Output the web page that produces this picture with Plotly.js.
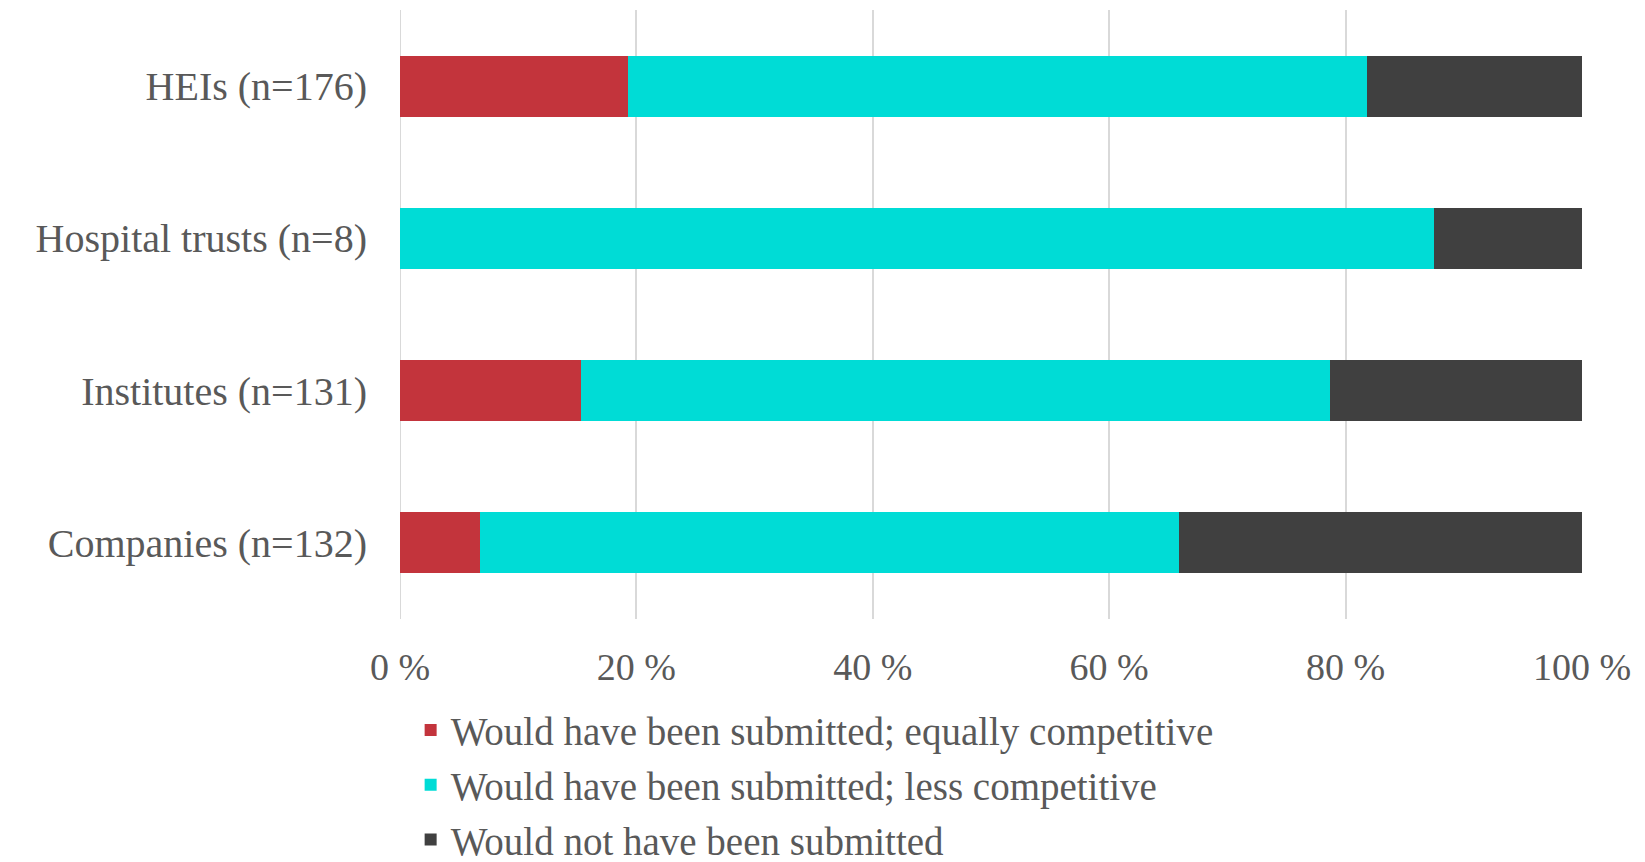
<!DOCTYPE html>
<html>
<head>
<meta charset="utf-8">
<script src="https://cdn.plot.ly/plotly-3.0.1.min.js"></script>
<style>html,body{margin:0;padding:0;background:#fff;}#chart{width:1645px;height:862px;}</style>
</head>
<body>
<div id="chart"></div>
<script>
const categories = ["HEIs (n=176)", "Hospital trusts (n=8)", "Institutes (n=131)", "Companies (n=132)"];
const equallyCompetitive = [19.3, 0, 15.3, 6.8];
const lessCompetitive = [62.5, 87.5, 63.4, 59.1];
const notSubmitted = [18.2, 12.5, 21.4, 34.1];
const seriesNames = ["Would have been submitted; equally competitive", "Would have been submitted; less competitive", "Would not have been submitted"];
const tickVals = [0, 20, 40, 60, 80, 100];
const tickText = ["0 %", "20 %", "40 %", "60 %", "80 %", "100 %"];

const colors = ["#C3343C", "#00DCD6", "#404040"];
const font = {family: "Liberation Serif, serif", color: "#595959"};
const seriesVals = [equallyCompetitive, lessCompetitive, notSubmitted];
const traces = seriesVals.map((v, i) => ({
  type: "bar", orientation: "h", y: categories, x: v, name: seriesNames[i],
  legendgroup: "g" + i,
  marker: {color: colors[i], line: {width: 0}},
  hoverinfo: "x+name"
}));

const layout = {
  width: 1645, height: 862,
  margin: {l: 400, r: 63, t: 10, b: 243, autoexpand: false},
  barmode: "stack", bargap: 0.6,
  paper_bgcolor: "#fff", plot_bgcolor: "#fff",
  font: Object.assign({size: 38}, font),
  xaxis: {
    range: [0, 100], tickvals: tickVals, ticktext: tickText,
    showgrid: true, gridcolor: "#d9d9d9", gridwidth: 2,
    zeroline: false, showline: false, ticks: "",
    ticklabelstandoff: 22,
    tickfont: Object.assign({size: 38}, font), fixedrange: true
  },
  yaxis: {
    autorange: "reversed", showgrid: false, zeroline: false, showline: false,
    ticks: "", ticklabelstandoff: 32,
    tickfont: Object.assign({size: 40}, font), fixedrange: true
  },
  shapes: [{type: "line", xref: "x", yref: "paper", x0: 0, x1: 0, y0: 0, y1: 1, line: {color: "#d9d9d9", width: 2}, layer: "below"}],
  showlegend: true,
  legend: {
    orientation: "v", traceorder: "grouped", tracegroupgap: 1,
    x: 0.009, xanchor: "left", y: -0.13, yanchor: "top",
    font: Object.assign({size: 39}, font), bgcolor: "rgba(0,0,0,0)"
  }
};
Plotly.newPlot("chart", traces, layout, {displayModeBar: false, staticPlot: true});
</script>
</body>
</html>
